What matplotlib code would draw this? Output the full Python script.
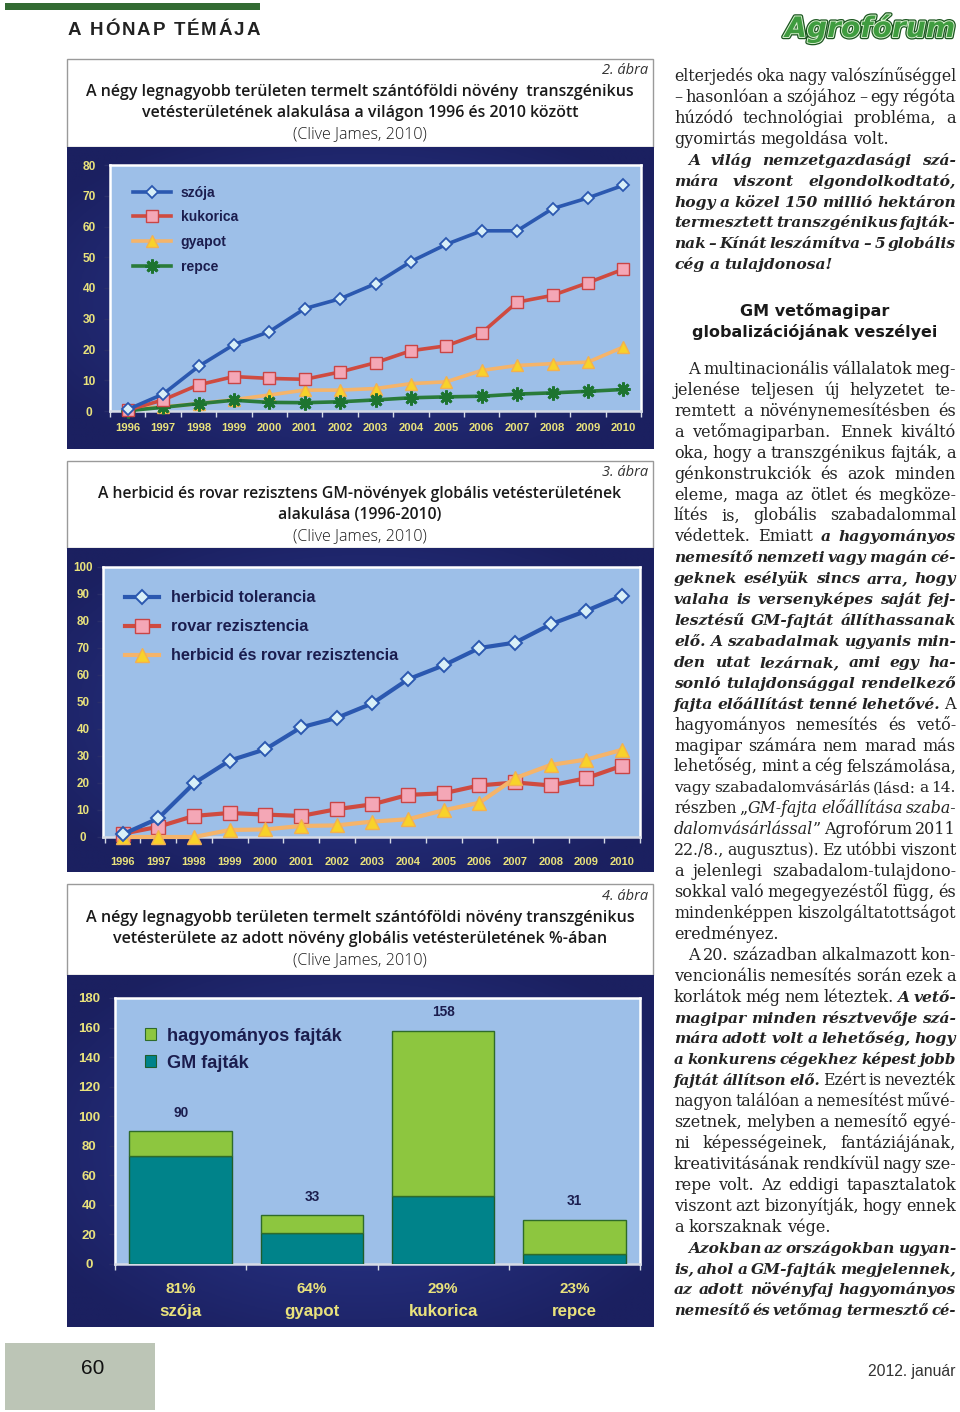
import matplotlib
matplotlib.use('Agg')
import matplotlib.pyplot as plt
import numpy as np
from matplotlib.patches import Rectangle, Patch
from matplotlib.colors import LinearSegmentedColormap
import matplotlib.patheffects as pe

# ---------------- data ----------------
years = [str(y) for y in range(1996, 2011)]
soy = [0.5, 5.5, 14.5, 21.6, 25.8, 33.3, 36.5, 41.4, 48.6, 54.2, 58.6, 58.6, 65.8, 69.3, 73.4]
maize = [0.3, 3.6, 8.5, 11.2, 10.6, 10.3, 12.7, 15.7, 19.6, 21.2, 25.4, 35.4, 37.6, 41.7, 46.1]
cotton = [0.8, 1.3, 2.4, 3.7, 5.2, 6.8, 6.8, 7.3, 8.9, 9.5, 13.2, 14.8, 15.4, 15.9, 20.8]
canola = [0.1, 1.2, 2.4, 3.5, 2.8, 2.7, 3.0, 3.6, 4.3, 4.6, 4.8, 5.5, 5.9, 6.4, 7.0]
series2_labels = ['szója', 'kukorica', 'gyapot', 'repce']

herb_tol = [1.0, 6.9, 19.9, 28.3, 32.5, 40.6, 44.1, 49.5, 58.4, 63.6, 70.0, 72.0, 78.8, 83.8, 89.4]
insect_res = [1.2, 3.8, 7.8, 8.9, 8.3, 7.8, 10.3, 12.1, 15.6, 16.2, 19.1, 20.2, 19.1, 21.8, 26.4]
stacked = [0.0, 0.0, 0.0, 2.6, 2.8, 4.1, 4.3, 5.7, 6.6, 9.9, 12.7, 21.8, 26.7, 28.7, 32.3]
series3_labels = ['herbicid tolerancia', 'rovar rezisztencia', 'herbicid és rovar rezisztencia']

crops = ['szója', 'gyapot', 'kukorica', 'repce']
gm_share = ['81%', '64%', '29%', '23%']
total_area = [90, 33, 158, 30]
total_labels = ['90', '33', '158', '31']
gm_area = [73, 21, 46, 7]
series4_labels = ['hagyományos fajták', 'GM fajták']

# ---------------- page setup ----------------
W, H = 960, 1412
fig = plt.figure(figsize=(W / 100, H / 100), dpi=100)
fig.patch.set_facecolor('white')
bg = fig.add_axes([0, 0, 1, 1])
bg.set_xlim(0, W)
bg.set_ylim(H, 0)
bg.axis('off')
renderer = fig.canvas.get_renderer()

NAVY_C = '#2d3b95'
NAVY_E = '#1b2060'
PLOT_BG = '#9dbfe8'
YEL = '#e9e27c'
INK = '#1b1d4e'
TXT = '#232323'


def rect(x0, y0, x1, y1):
    return [x0 / W, 1 - y1 / H, (x1 - x0) / W, (y1 - y0) / H]


def measure(s, **kw):
    t = bg.text(0, 0, s, **kw)
    w = t.get_window_extent(renderer).width
    t.remove()
    return w


def fit_text(x, y, s, width, size0=10, **kw):
    w = measure(s, fontsize=size0, **kw)
    fs = size0 * width / w
    bg.text(x, y, s, fontsize=fs, **kw)
    return fs


def tracked(x, y, s, target_w, size, **kw):
    nat = measure(s, fontsize=size, **kw)
    n = len(s)
    track = (target_w - nat) / (n - 1)
    for k, ch in enumerate(s):
        if ch == ' ':
            continue
        pos = measure(s[:k + 1], fontsize=size, **kw) - measure(ch, fontsize=size, **kw)
        bg.text(x + pos + k * track, y, ch, fontsize=size, **kw)


# ---------------- header ----------------
bg.add_patch(Rectangle((5, 3), 255, 7, color='#336b33', lw=0))
tracked(68, 35, 'A HÓNAP TÉMÁJA', 192, 13.5, family='Liberation Sans',
        weight='bold', color='#222222', va='baseline')
logo_fs = measure('Agrofórum', fontsize=20, family='DejaVu Sans', weight='bold', style='italic')
logo_fs = 20 * 170 / logo_fs
bg.text(955, 37, 'Agrofórum', fontsize=logo_fs, family='DejaVu Sans', weight='bold',
        style='italic', color='#3f9c3f', ha='right', va='baseline',
        path_effects=[pe.Stroke(linewidth=3.2, foreground='#1b561f'),
                      pe.Stroke(linewidth=1.4, foreground='#d8f0d0'), pe.Normal()])

# ---------------- captions ----------------
CAP = dict(family='Open Sans', color='#1a1a1a', va='center', ha='center')


def caption(y0, y1, num, lines, widths, clive_y):
    bg.add_patch(Rectangle((67, y0), 586, y1 - y0, fill=False, ec='#9a9a9a', lw=1))
    bg.text(648, y0 + 12, num, fontsize=10.5, family='Open Sans', style='italic',
            color='#333333', ha='right', va='center')
    fs = None
    for i, (ln, yy) in enumerate(lines):
        if fs is None:
            fs = measure(ln, fontsize=10, weight='semibold', family='Open Sans')
            fs = 10 * widths / fs
        bg.text(360, yy, ln, fontsize=fs, weight='semibold', **CAP)
    fit_text(360, clive_y, '(Clive James, 2010)', 134, 10, weight='light', **CAP)


caption(59, 147, '2. ábra',
        [('A négy legnagyobb területen termelt szántóföldi növény  transzgénikus', 92),
         ('vetésterületének alakulása a világon 1996 és 2010 között', 113)], 550, 134)
caption(461, 548, '3. ábra',
        [('A herbicid és rovar rezisztens GM-növények globális vetésterületének', 494),
         ('alakulása (1996-2010)', 515)], 525, 536)
caption(884, 975, '4. ábra',
        [('A négy legnagyobb területen termelt szántóföldi növény transzgénikus', 918),
         ('vetésterülete az adott növény globális vetésterületének %-ában', 939)], 550, 960)


# ---------------- chart helpers ----------------
def chart_bg(x0, y0, x1, y1):
    a = fig.add_axes(rect(x0, y0, x1, y1))
    ny, nx = 120, 240
    yy, xx = np.mgrid[0:1:ny * 1j, 0:1:nx * 1j]
    r = np.sqrt(((xx - 0.5) / 0.62) ** 2 + ((yy - 0.5) / 0.62) ** 2)
    cmap = LinearSegmentedColormap.from_list('navy', [NAVY_C, NAVY_E])
    a.imshow(np.clip(r, 0, 1), cmap=cmap, vmin=0, vmax=1, extent=[0, 1, 0, 1],
             aspect='auto', interpolation='bilinear')
    a.axis('off')


def plot_axes(x0, y0, x1, y1):
    ax = fig.add_axes(rect(x0, y0, x1, y1))
    ax.set_facecolor(PLOT_BG)
    for s in ax.spines.values():
        s.set_color('white')
        s.set_linewidth(1.8)
    ax.spines['bottom'].set_color('#d6dbe6')
    return ax


def style_ticks(ax, ysize, xsize, ypad, xpad):
    ax.tick_params(axis='y', length=4, color='#2a2f6a', width=1, pad=ypad,
                   labelsize=ysize, labelcolor=YEL)
    ax.tick_params(axis='x', which='major', length=0, pad=xpad, labelsize=xsize, labelcolor=YEL)
    ax.tick_params(axis='x', which='minor', length=4, color='#d6dbe6', width=1)
    for l in ax.get_yticklabels() + ax.get_xticklabels():
        l.set_fontweight('bold')
        l.set_family('Liberation Sans')
    for l in ax.get_yticklabels():
        l.set_ha('center')


# ---------------- chart 2 ----------------
chart_bg(67, 147, 653, 449)
ax2 = plot_axes(110, 165, 641, 411)
x = np.arange(len(years))
common = dict(clip_on=False)
ax2.plot(x, soy, color='#2b58b0', lw=2.6, marker='D', ms=6.2, mfc='#d8eff8', mec='#2b58b0',
         mew=1.3, label=series2_labels[0], zorder=6, **common)
ax2.plot(x, maize, color='#cf4b40', lw=2.6, marker='s', ms=8, mfc='#f4a7b6', mec='#c94545',
         mew=1.0, label=series2_labels[1], zorder=5, **common)
ax2.plot(x, cotton, color='#f5b46a', lw=2.6, marker='^', ms=8, mfc='#f8d22a', mec='#f3b050',
         mew=1.0, label=series2_labels[2], zorder=4, **common)
ax2.plot(x, canola, color='#2a7b3a', lw=2.6, marker=(8, 2, 0), ms=10, mec='#1d7430',
         mew=2.0, label=series2_labels[3], zorder=4, **common)
ax2.set_xlim(-0.5, 14.5)
ax2.set_ylim(0, 80)
ax2.set_xticks(x)
ax2.set_xticklabels(years)
ax2.set_xticks(np.arange(-0.5, 15, 1), minor=True)
ax2.set_yticks(range(0, 81, 10))
style_ticks(ax2, 8.6, 8.1, 11, 8.5)
leg = ax2.legend(loc='upper left', bbox_to_anchor=(0.044, 0.916), frameon=False, borderpad=0,
                 borderaxespad=0, handlelength=2.7, handletextpad=0.67, labelspacing=0.76,
                 prop=dict(family='Liberation Sans', weight='bold', size=10.1))
for t in leg.get_texts():
    t.set_color(INK)

# ---------------- chart 3 ----------------
chart_bg(67, 548, 653, 872)
ax3 = plot_axes(103, 567, 640, 837)
ax3.plot(x, herb_tol, color='#2b58b0', lw=3.0, marker='D', ms=7.0, mfc='#d8eff8', mec='#2b58b0',
         mew=1.4, label=series3_labels[0], zorder=6, **common)
ax3.plot(x, insect_res, color='#cf4b40', lw=3.0, marker='s', ms=10, mfc='#f4a7b6', mec='#c94545',
         mew=1.0, label=series3_labels[1], zorder=5, **common)
ax3.plot(x, stacked, color='#f5b46a', lw=3.0, marker='^', ms=9.5, mfc='#f8d22a', mec='#f3b050',
         mew=1.0, label=series3_labels[2], zorder=5, **common)
ax3.set_xlim(-0.55, 14.5)
ax3.set_ylim(0, 100)
ax3.set_xticks(x)
ax3.set_xticklabels(years)
ax3.set_xticks(np.arange(-0.5, 15, 1), minor=True)
ax3.set_yticks(range(0, 101, 10))
style_ticks(ax3, 8.4, 8.0, 10.4, 14.5)
leg = ax3.legend(loc='upper left', bbox_to_anchor=(0.041, 0.913), frameon=False, borderpad=0,
                 borderaxespad=0, handlelength=2.1, handletextpad=0.74, labelspacing=0.86,
                 prop=dict(family='Liberation Sans', weight='bold', size=11.7))
for t in leg.get_texts():
    t.set_color(INK)

# ---------------- chart 4 ----------------
chart_bg(67, 975, 653, 1327)
ax4 = plot_axes(115, 998, 640, 1264)
xb = np.arange(len(crops))
conv = [t - g for t, g in zip(total_area, gm_area)]
ax4.bar(xb, gm_area, width=0.78, color='#00838a', ec='#1f5e2a', lw=1.0, zorder=3)
ax4.bar(xb, conv, bottom=gm_area, width=0.78, color='#8dc63f', ec='#2f6b2a', lw=1.0, zorder=3)
for xi, tv, tl in zip(xb, total_area, total_labels):
    ax4.text(xi, tv + 12.5, tl, ha='center', va='center', fontsize=9.8, weight='bold',
             family='Liberation Sans', color=INK)
for xi, sh in zip(xb, gm_share):
    ax4.text(xi, -0.094, sh, transform=ax4.get_xaxis_transform(), ha='center', va='center',
             fontsize=11, weight='bold', family='Liberation Sans', color=YEL)
ax4.set_xlim(-0.5, 3.5)
ax4.set_ylim(0, 180)
ax4.set_xticks(xb)
ax4.set_xticklabels(crops)
ax4.set_xticks(np.arange(-0.5, 4, 1), minor=True)
ax4.set_yticks(range(0, 181, 20))
style_ticks(ax4, 9.5, 12.2, 14.7, 28.5)
handles = [Patch(fc='#8dc63f', ec='#2f6b2a', lw=0.8), Patch(fc='#00838a', ec='#1f5e2a', lw=0.8)]
leg = ax4.legend(handles, series4_labels, loc='upper left', bbox_to_anchor=(0.057, 0.889),
                 frameon=False, borderpad=0, borderaxespad=0, handlelength=0.6, handleheight=0.6,
                 handletextpad=0.62, labelspacing=0.55,
                 prop=dict(family='Liberation Sans', weight='bold', size=13.1))
for t in leg.get_texts():
    t.set_color(INK)

# ---------------- right column text ----------------
FS_BODY = 11.6
STY = {'n': dict(family='DejaVu Serif', style='normal', weight='normal'),
       'e': dict(family='DejaVu Serif', style='italic', weight='bold'),
       'i': dict(family='DejaVu Serif', style='italic', weight='normal')}
SIZE_F = {'n': 1.0, 'e': 0.96, 'i': 1.0}
COL_L, COL_R = 674, 956


def build_words(segs):
    words = []
    glue = False
    for txt, st in segs:
        parts = txt.split(' ')
        for i, p in enumerate(parts):
            if p == '':
                glue = False
                continue
            if i == 0 and glue and words:
                words[-1].append((p, st))
            else:
                words.append([(p, st)])
            glue = True
    return words


def draw_line(y, segs, last=False, indent=False, fs=FS_BODY):
    words = build_words(segs)
    x0 = COL_L + (14 if indent else 0)
    avail = COL_R - x0

    def wlist(f):
        return [[measure(p, fontsize=f * SIZE_F[st], **STY[st]) for p, st in w] for w in words]

    ws = wlist(fs)
    space = measure('a a', fontsize=fs, **STY['n']) - measure('aa', fontsize=fs, **STY['n'])
    tot = sum(sum(w) for w in ws)
    n = len(words)
    if n > 1 and tot + (n - 1) * space * 0.55 > avail:
        f = avail / (tot + (n - 1) * space * 0.55)
        fs = fs * f
        ws = wlist(fs)
        tot = sum(sum(w) for w in ws)
        space *= f
    gap = space if (last or n == 1) else (avail - tot) / (n - 1)
    xx = x0
    for w, wd in zip(words, ws):
        for (p, st), pw in zip(w, wd):
            bg.text(xx, y, p, fontsize=fs * SIZE_F[st], va='baseline', ha='left', color=TXT,
                    **STY[st])
            xx += pw
        xx += gap


N, E, I = 'n', 'e', 'i'
part1 = [
    ([("elterjedés oka nagy valószínűséggel", N)], False, False),
    ([("– hasonlóan a szójához – egy régóta", N)], False, False),
    ([("húzódó technológiai probléma, a", N)], False, False),
    ([("gyomirtás megoldása volt.", N)], True, False),
    ([("A világ nemzetgazdasági szá-", E)], False, True),
    ([("mára viszont elgondolkodtató,", E)], False, False),
    ([("hogy a közel 150 millió hektáron", E)], False, False),
    ([("termesztett transzgénikus fajták-", E)], False, False),
    ([("nak – Kínát leszámítva – 5 globális", E)], False, False),
    ([("cég a tulajdonosa!", E)], True, False),
]
part2 = [
    ([("A multinacionális vállalatok meg-", N)], False, True),
    ([("jelenése teljesen új helyzetet te-", N)], False, False),
    ([("remtett a növénynemesítésben és", N)], False, False),
    ([("a vetőmagiparban. Ennek kiváltó", N)], False, False),
    ([("oka, hogy a transzgénikus fajták, a", N)], False, False),
    ([("génkonstrukciók és azok minden", N)], False, False),
    ([("eleme, maga az ötlet és megköze-", N)], False, False),
    ([("lítés is, globális szabadalommal", N)], False, False),
    ([("védettek. Emiatt ", N), ("a hagyományos", E)], False, False),
    ([("nemesítő nemzeti vagy magán cé-", E)], False, False),
    ([("geknek esélyük sincs arra, hogy", E)], False, False),
    ([("valaha is versenyképes saját fej-", E)], False, False),
    ([("lesztésű GM-fajtát állíthassanak", E)], False, False),
    ([("elő. A szabadalmak ugyanis min-", E)], False, False),
    ([("den utat lezárnak, ami egy ha-", E)], False, False),
    ([("sonló tulajdonsággal rendelkező", E)], False, False),
    ([("fajta előállítást tenné lehetővé.", E), (" A", N)], False, False),
    ([("hagyományos nemesítés és vető-", N)], False, False),
    ([("magipar számára nem marad más", N)], False, False),
    ([("lehetőség, mint a cég felszámolása,", N)], False, False),
    ([("vagy szabadalomvásárlás (lásd: a 14.", N)], False, False),
    ([("részben „", N), ("GM-fajta előállítása szaba-", I)], False, False),
    ([("dalomvásárlással", I), ("” Agrofórum 2011", N)], False, False),
    ([("22./8., augusztus). Ez utóbbi viszont", N)], False, False),
    ([("a jelenlegi szabadalom-tulajdono-", N)], False, False),
    ([("sokkal való megegyezéstől függ, és", N)], False, False),
    ([("mindenképpen kiszolgáltatottságot", N)], False, False),
    ([("eredményez.", N)], True, False),
    ([("A 20. században alkalmazott kon-", N)], False, True),
    ([("vencionális nemesítés során ezek a", N)], False, False),
    ([("korlátok még nem léteztek. ", N), ("A vető-", E)], False, False),
    ([("magipar minden résztvevője szá-", E)], False, False),
    ([("mára adott volt a lehetőség, hogy", E)], False, False),
    ([("a konkurens cégekhez képest jobb", E)], False, False),
    ([("fajtát állítson elő.", E), (" Ezért is nevezték", N)], False, False),
    ([("nagyon találóan a nemesítést művé-", N)], False, False),
    ([("szetnek, melyben a nemesítő egyé-", N)], False, False),
    ([("ni képességeinek, fantáziájának,", N)], False, False),
    ([("kreativitásának rendkívül nagy sze-", N)], False, False),
    ([("repe volt. Az eddigi tapasztalatok", N)], False, False),
    ([("viszont azt bizonyítják, hogy ennek", N)], False, False),
    ([("a korszaknak vége.", N)], True, False),
    ([("Azokban az országokban ugyan-", E)], False, True),
    ([("is, ahol a GM-fajták megjelennek,", E)], False, False),
    ([("az adott növényfaj hagyományos", E)], False, False),
    ([("nemesítő és vetőmag termesztő cé-", E)], False, False),
]
PITCH = 20.92
for k, (segs, last, ind) in enumerate(part1):
    draw_line(76 + 5 + k * PITCH, segs, last, ind)
for k, (segs, last, ind) in enumerate(part2):
    draw_line(369 + 5 + k * PITCH, segs, last, ind)

hfs = measure('globalizációjának veszélyei', fontsize=10, family='DejaVu Sans', weight='bold')
hfs = 10 * 244 / hfs
bg.text(815, 316, 'GM vetőmagipar', fontsize=hfs, family='DejaVu Sans', weight='bold',
        ha='center', va='baseline', color='#1a1a1a')
bg.text(815, 337, 'globalizációjának veszélyei', fontsize=hfs, family='DejaVu Sans',
        weight='bold', ha='center', va='baseline', color='#1a1a1a')

# ---------------- footer ----------------
bg.add_patch(Rectangle((5, 1343), 150, 67, color='#bcc5b6', lw=0))
bg.text(93, 1368, '60', fontsize=15, family='Liberation Sans', ha='center', va='center',
        color='#111111')
fit_text(955, 1376, '2012. január', 88, 10, family='Liberation Sans', ha='right',
         va='baseline', color='#333333')

fig.savefig('out.png', dpi=100)
